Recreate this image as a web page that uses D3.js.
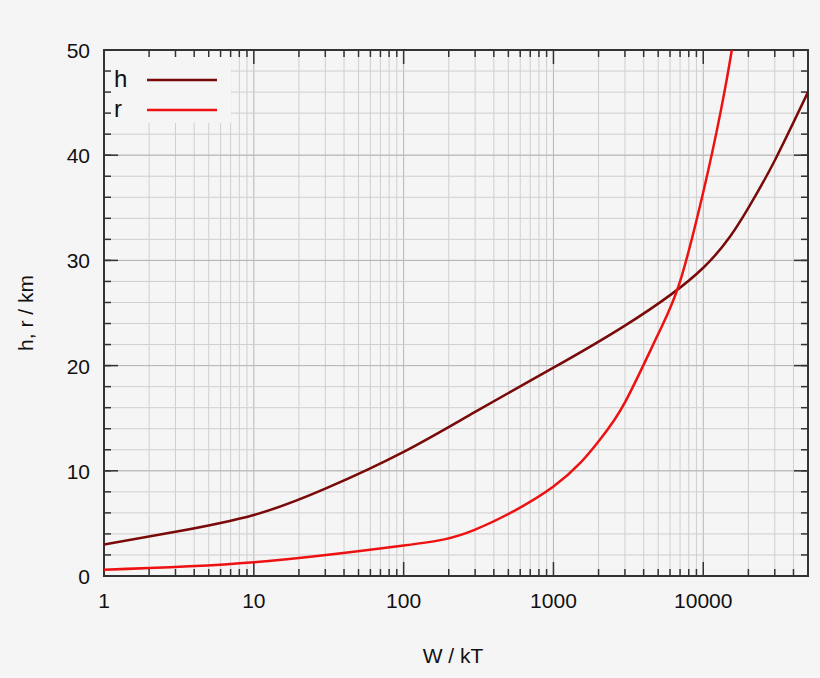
<!DOCTYPE html>
<html><head><meta charset="utf-8">
<script src="https://cdn.jsdelivr.net/npm/d3@7"></script>
<style>body{margin:0;background:#f5f5f5}svg{display:block;font-family:"Liberation Sans",Arial,sans-serif}</style>
</head><body><svg id="c" width="820" height="678"></svg>
<script>
const hW = [1,3,10,30,100,300,1000,3000,10000,20000,30000,50000];
const hVals = [3.0,4.2,5.8,8.3,11.8,15.6,19.8,23.8,29.3,35,39.5,46];
const rW = [1,10,100,300,1000,2000,3000,5000,7000,10000,13000,15500,17000];
const rVals = [0.6,1.3,2.9,4.4,8.5,12.8,16.5,23,28,36.5,44,50,54];
const xTicks = [1,10,100,1000,10000];
const yTicks = [0,10,20,30,40,50];
const legendNames = ["h","r"];
const colors = ["#7a0a0a","#ee1111"];

const svg = d3.select("#c");
const L=104,R=808,T=50,B=576;
const x = d3.scaleLog().domain([1,50000]).range([L,R]);
const y = d3.scaleLinear().domain([0,50]).range([B,T]);
const g = svg.append("g");
const minors=[];
for(let d=1; d<=10000; d*=10) for(let k=2;k<=9;k++){ if(d*k<50000) minors.push(d*k); }
const yMinor=d3.range(0,51,2);
g.selectAll(".vx").data(minors).join("line").attr("x1",d=>x(d)).attr("x2",d=>x(d)).attr("y1",T).attr("y2",B).attr("stroke","#cfcfcf");
g.selectAll(".vM").data(xTicks).join("line").attr("x1",d=>x(d)).attr("x2",d=>x(d)).attr("y1",T).attr("y2",B).attr("stroke","#b5b5b5");
g.selectAll(".hy").data(yMinor).join("line").attr("x1",L).attr("x2",R).attr("y1",d=>y(d)).attr("y2",d=>y(d)).attr("stroke","#cfcfcf");
g.selectAll(".hM").data(yTicks).join("line").attr("x1",L).attr("x2",R).attr("y1",d=>y(d)).attr("y2",d=>y(d)).attr("stroke","#b5b5b5");
g.append("rect").attr("x",L+1).attr("y",T+1).attr("width",126).attr("height",72).attr("fill","#f5f5f5");
const tk=(x1,y1,x2,y2)=>g.append("line").attr("x1",x1).attr("y1",y1).attr("x2",x2).attr("y2",y2).attr("stroke","#333").attr("stroke-width",1.5);
xTicks.forEach(d=>{tk(x(d),B,x(d),B-14);tk(x(d),T,x(d),T+14);});
minors.forEach(d=>{tk(x(d),B,x(d),B-7);tk(x(d),T,x(d),T+7);});
yTicks.forEach(d=>{tk(L,y(d),L+14,y(d));tk(R,y(d),R-14,y(d));});
yMinor.forEach(d=>{tk(L,y(d),L+7,y(d));tk(R,y(d),R-7,y(d));});
g.append("rect").attr("x",L).attr("y",T).attr("width",R-L).attr("height",B-T).attr("fill","none").attr("stroke","#333").attr("stroke-width",2);
g.selectAll(".xl").data(xTicks).join("text").attr("x",d=>x(d)).attr("y",B+32).attr("text-anchor","middle").attr("font-size",21).attr("fill","#111").text(d=>d);
g.selectAll(".yl").data(yTicks).join("text").attr("x",L-14).attr("y",d=>y(d)+8).attr("text-anchor","end").attr("font-size",21).attr("fill","#111").text(d=>d);
svg.append("text").attr("x",453).attr("y",663).attr("text-anchor","middle").attr("font-size",21).attr("fill","#111").text("W / kT");
svg.append("text").attr("transform","translate(33,313) rotate(-90)").attr("text-anchor","middle").attr("font-size",21).attr("fill","#111").text("h, r / km");
svg.append("clipPath").attr("id","cp").append("rect").attr("x",L).attr("y",T).attr("width",R-L).attr("height",B-T);
const line=d3.line().x(d=>x(d[0])).y(d=>y(d[1])).curve(d3.curveNatural);
const series=[d3.zip(hW,hVals), d3.zip(rW,rVals)];
series.forEach((s,i)=>svg.append("path").attr("clip-path","url(#cp)").attr("d",line(s)).attr("fill","none").attr("stroke",colors[i]).attr("stroke-width",2.5));
legendNames.forEach((n,i)=>{
  svg.append("text").attr("x",114).attr("y",87+i*30).attr("font-size",24).attr("fill","#111").text(n);
  svg.append("line").attr("x1",147).attr("x2",217).attr("y1",80+i*30).attr("y2",80+i*30).attr("stroke",colors[i]).attr("stroke-width",2.5);
});
</script></body></html>
